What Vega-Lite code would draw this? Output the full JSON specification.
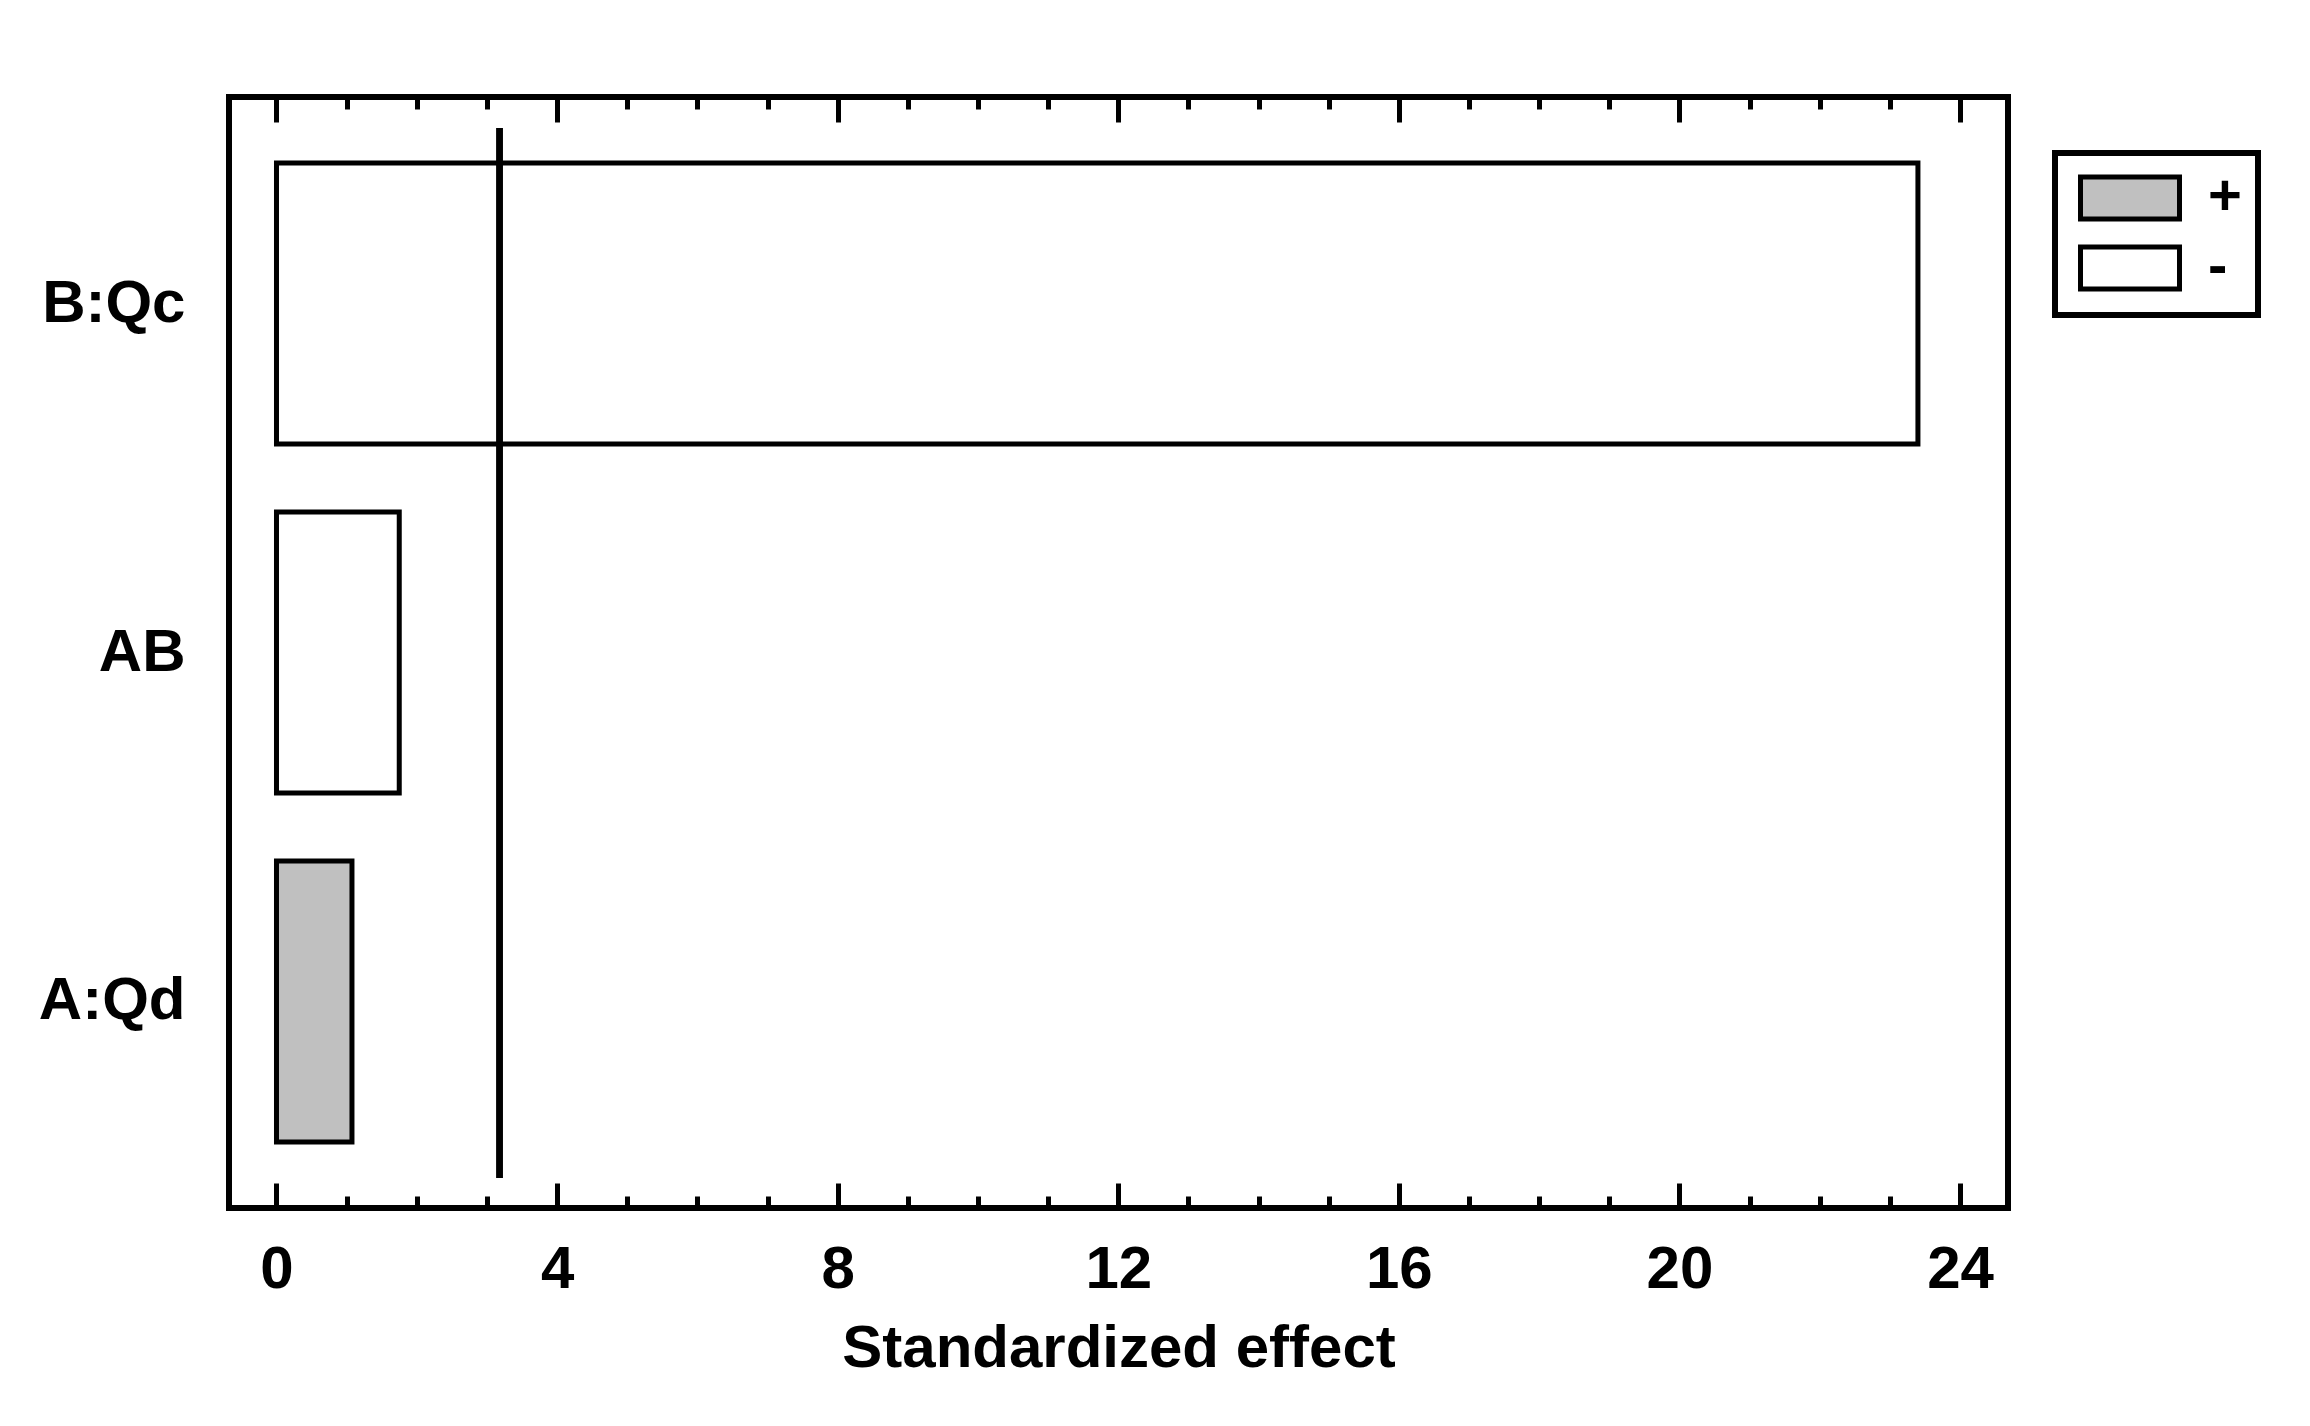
{
  "$schema": "https://vega.github.io/schema/vega-lite/v6.json",
  "width": 1779,
  "height": 1111,
  "autosize": {"type": "none"},
  "padding": {"left": 229, "top": 97, "right": 302, "bottom": 218},
  "background": "white",
  "config": {
    "font": "Liberation Sans",
    "view": {"stroke": "black", "strokeWidth": 6},
    "legend": {"strokeWidth": 6},
    "axis": {"grid": false, "domain": false, "labelColor": "black", "titleColor": "black", "tickColor": "black"}
  },
  "datasets": {
    "effects": [
      {"term": "B:Qc", "effect": 23.40, "sign": "-"},
      {"term": "AB", "effect": 1.75, "sign": "-"},
      {"term": "A:Qd", "effect": 1.076, "sign": "+"}
    ],
    "ref": [{"critical": 3.18}]
  },
  "resolve": {"axis": {"x": "independent"}},
  "layer": [
    {
      "data": {"name": "effects"},
      "mark": {"type": "bar", "stroke": "black", "strokeWidth": 5, "opacity": 1},
      "encoding": {
        "y": {
          "field": "term", "type": "nominal",
          "sort": ["B:Qc", "AB", "A:Qd"],
          "scale": {"paddingInner": 0.1948, "paddingOuter": 0.1891},
          "axis": {"title": null, "ticks": false, "domain": false, "labelFontSize": 60, "labelFontWeight": "bold", "labelPadding": 44, "labelBaseline": "middle", "labelAlign": "right"}
        },
        "x": {
          "field": "effect", "type": "quantitative",
          "scale": {"domain": [-0.677, 24.684], "nice": false, "zero": false},
          "axis": {"orient": "bottom", "values": [0, 4, 8, 12, 16, 20, 24], "ticks": false, "domain": false, "labelFontSize": 60, "labelFontWeight": "bold", "labelPadding": 32, "labelFlush": false, "labelOverlap": false, "title": "Standardized effect", "titleFontSize": 60, "titleFontWeight": "bold", "titlePadding": 20}
        },
        "x2": {"datum": 0},
        "fill": {
          "field": "sign", "type": "nominal",
          "scale": {"domain": ["+", "-"], "range": ["#c0c0c0", "#ffffff"]},
          "legend": {"orient": "none", "legendX": 1826, "legendY": 56, "title": null, "symbolType": "M-2.357,-1H2.357V1H-2.357Z", "symbolSize": 1764, "symbolStrokeWidth": 5, "symbolStrokeColor": "black", "labelFontSize": 58, "labelFontWeight": "bold", "labelColor": "black", "labelOffset": 49, "padding": 16, "strokeColor": "black", "fillColor": "white", "rowPadding": 8, "symbolOffset": 30}
        }
      }
    },
    {
      "data": {"name": "ref"},
      "mark": {"type": "rule", "stroke": "black", "strokeWidth": 6},
      "encoding": {
        "x": {
          "field": "critical", "type": "quantitative",
          "scale": {"domain": [-0.677, 24.684], "nice": false, "zero": false},
          "axis": {"orient": "bottom", "values": [0, 4, 8, 12, 16, 20, 24], "labels": false, "domain": false, "tickSize": -25, "tickWidth": 5, "title": null}
        },
        "y": {"datum": "B:Qc", "type": "nominal", "bandPosition": -0.1246, "axis": {"title": null}},
        "y2": {"datum": "A:Qd", "bandPosition": 1.128}
      }
    },
    {
      "data": {"name": "ref"},
      "mark": {"type": "rule", "stroke": "black", "strokeWidth": 6},
      "encoding": {
        "x": {
          "field": "critical", "type": "quantitative",
          "scale": {"domain": [-0.677, 24.684], "nice": false, "zero": false},
          "axis": {"orient": "bottom", "values": [0,1,2,3,4,5,6,7,8,9,10,11,12,13,14,15,16,17,18,19,20,21,22,23,24], "labels": false, "domain": false, "tickSize": -12, "tickWidth": 5, "title": null}
        },
        "y": {"datum": "B:Qc", "type": "nominal", "bandPosition": -0.1246, "axis": {"title": null}},
        "y2": {"datum": "A:Qd", "bandPosition": 1.128}
      }
    },
    {
      "data": {"name": "ref"},
      "mark": {"type": "rule", "stroke": "black", "strokeWidth": 6},
      "encoding": {
        "x": {
          "field": "critical", "type": "quantitative",
          "scale": {"domain": [-0.677, 24.684], "nice": false, "zero": false},
          "axis": {"orient": "top", "values": [0, 4, 8, 12, 16, 20, 24], "labels": false, "domain": false, "tickSize": -25, "tickWidth": 5, "title": null}
        },
        "y": {"datum": "B:Qc", "type": "nominal", "bandPosition": -0.1246, "axis": {"title": null}},
        "y2": {"datum": "A:Qd", "bandPosition": 1.128}
      }
    },
    {
      "data": {"name": "ref"},
      "mark": {"type": "rule", "stroke": "black", "strokeWidth": 6},
      "encoding": {
        "x": {
          "field": "critical", "type": "quantitative",
          "scale": {"domain": [-0.677, 24.684], "nice": false, "zero": false},
          "axis": {"orient": "top", "values": [0,1,2,3,4,5,6,7,8,9,10,11,12,13,14,15,16,17,18,19,20,21,22,23,24], "labels": false, "domain": false, "tickSize": -12, "tickWidth": 5, "title": null}
        },
        "y": {"datum": "B:Qc", "type": "nominal", "bandPosition": -0.1246, "axis": {"title": null}},
        "y2": {"datum": "A:Qd", "bandPosition": 1.128}
      }
    }
  ]
}
